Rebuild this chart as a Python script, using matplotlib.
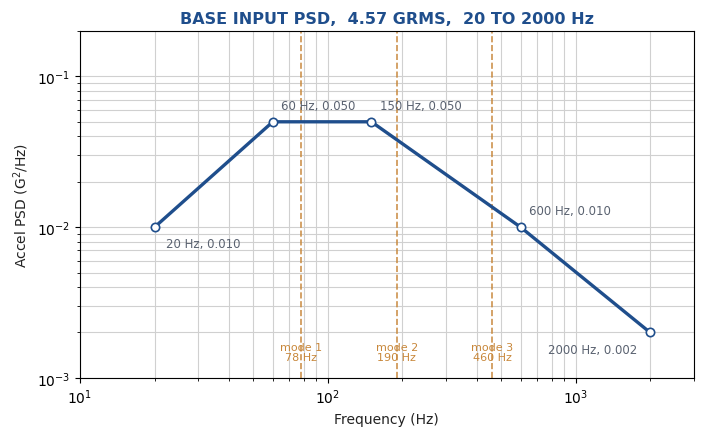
import matplotlib
matplotlib.use("Agg")
import matplotlib.pyplot as plt
from matplotlib.transforms import blended_transform_factory

freq = [20, 60, 150, 600, 2000]
psd = [0.010, 0.050, 0.050, 0.010, 0.002]
point_labels = ["20 Hz, 0.010", "60 Hz, 0.050", "150 Hz, 0.050", "600 Hz, 0.010", "2000 Hz, 0.002"]
label_offsets = [(8, -11.5), (6, 12), (6, 12), (6, 12), (-9, -12)]
label_ha = ["left", "left", "left", "left", "right"]
mode_freqs = [78, 190, 460]
mode_names = ["mode 1", "mode 2", "mode 3"]

blue = "#1f4e8c"
orange = "#c8873a"

fig, ax = plt.subplots(figsize=(7.05, 4.39), dpi=100)
fig.subplots_adjust(left=0.1135, right=0.984, top=0.927, bottom=0.137)

ax.set_xscale("log")
ax.set_yscale("log")
ax.set_xlim(10, 3000)
ax.set_ylim(1e-3, 0.2)

ax.grid(True, which="both", color="#d0d0d0", linewidth=0.8)
ax.set_axisbelow(True)

ax.plot(freq, psd, color=blue, linewidth=2.4, marker="o", markersize=6,
        markerfacecolor="white", markeredgecolor=blue, markeredgewidth=1.2, zorder=3)

for f, p, lab, off, ha in zip(freq, psd, point_labels, label_offsets, label_ha):
    ax.annotate(lab, (f, p), xytext=off, textcoords="offset points",
                ha=ha, va="center", fontsize=8.5, color="#5a6270")

trans = blended_transform_factory(ax.transData, ax.transAxes)
for mf, mn in zip(mode_freqs, mode_names):
    ax.axvline(mf, color=orange, linestyle="--", linewidth=1.2, alpha=0.9, zorder=2)
    ax.text(mf, 0.075, f"{mn}\n{mf} Hz", transform=trans, ha="center", va="center",
            fontsize=8, color=orange, linespacing=1.0)

ax.set_xlabel("Frequency (Hz)", fontsize=10, color="#222222")
ax.set_ylabel("Accel PSD (G$^2$/Hz)", fontsize=10, color="#222222")
ax.set_title("BASE INPUT PSD,  4.57 GRMS,  20 TO 2000 Hz", fontsize=11.5,
             fontweight="bold", color=blue)

fig.savefig("out.png", dpi=100)
